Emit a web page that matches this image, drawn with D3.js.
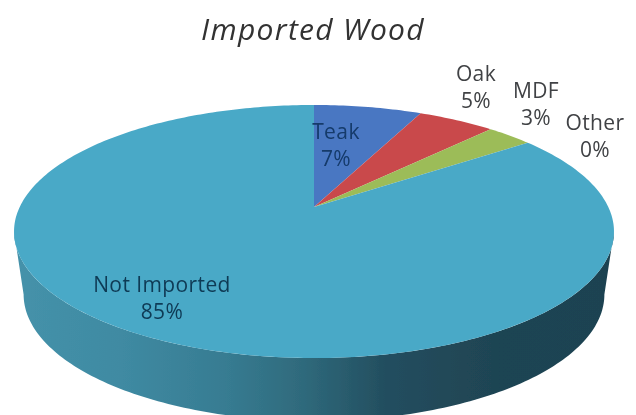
<!DOCTYPE html>
<html>
<head>
<meta charset="utf-8">
<script src="https://cdn.jsdelivr.net/npm/d3@7"></script>
<style>
html,body{margin:0;padding:0;background:#fff;}
svg{display:block;}
text{font-family:"Open Sans",Lato,sans-serif;}
</style>
</head>
<body>
<div id="chart"></div>
<script>
const chartTitle = "Imported Wood";
const categories = ["Teak", "Oak", "MDF", "Other", "Not Imported"];
const values = [7, 5, 3, 0, 85];
const percentLabels = ["7%", "5%", "3%", "0%", "85%"];
const sliceColors = ["#4a77c2", "#c94a4c", "#9cbc58", "#4aa9c7", "#4aa9c7"];
const labelColors = ["#143a6a", "#404245", "#404245", "#404245", "#0f3a55"];
const labelX = [336, 476, 536, 595, 162];
const labelY = [139, 81, 98, 130, 292];

const W = 636, H = 415;
const cx = 314, apexY = 207;
const k = 294.3, A = 81.7, C = -0.1937;
const depth = 63, bottomScale = 0.968;

// Perspective projection of a unit disc: angle measured clockwise from 12 o'clock
function project(theta, bottom) {
  const u = Math.sin(theta), v = -Math.cos(theta), w = 1 + C * v;
  const x = k * u / w, y = (A * v + apexY) / w;
  return bottom ? [cx + x * bottomScale, y + depth] : [cx + x, y];
}
const step = Math.PI / 180;
function arcPoints(a0, a1, bottom) {
  const n = Math.max(1, Math.ceil(Math.abs(a1 - a0) / step));
  return d3.range(n + 1).map(i => project(a0 + (a1 - a0) * i / n, bottom));
}

const svg = d3.select("#chart").append("svg").attr("width", W).attr("height", H);
const defs = svg.append("defs");
defs.append("filter").attr("id", "soft").attr("x", "-5%").attr("y", "-5%").attr("width", "110%").attr("height", "110%")
  .append("feGaussianBlur").attr("stdDeviation", 0.6);
const grad = defs.append("linearGradient").attr("id", "side")
  .attr("gradientUnits", "userSpaceOnUse").attr("x1", 14).attr("x2", 614).attr("y1", 0).attr("y2", 0);
[[0, "#4592aa"], [0.18, "#3f8aa2"], [0.35, "#377c92"], [0.48, "#2f6a7c"], [0.62, "#234e5f"], [0.8, "#1f4453"], [1, "#1e4351"]]
  .forEach(s => grad.append("stop").attr("offset", s[0]).attr("stop-color", s[1]));

const g = svg.append("g").attr("filter", "url(#soft)");
const line = d3.line();

// Side wall: between the two silhouette points (cos(theta) = C) of the top and bottom rims
const tA = Math.acos(C), tB = 2 * Math.PI - tA;
g.append("path")
  .attr("d", line([...arcPoints(tA, tB, false), ...arcPoints(tB, tA, true)]) + "Z")
  .attr("fill", "url(#side)");

const pie = d3.pie().sort(null).value(d => d)(values);
g.selectAll("path.slice").data(pie).join("path")
  .attr("class", "slice")
  .attr("d", d => line([[cx, apexY], ...arcPoints(d.startAngle, d.endAngle, false)]) + "Z")
  .attr("fill", (d, i) => sliceColors[i]);

g.append("text").attr("x", 313).attr("y", 40).attr("text-anchor", "middle")
  .attr("font-size", 30).attr("letter-spacing", 1.3).attr("font-style", "italic").attr("fill", "#333").text(chartTitle);

const labels = g.selectAll("text.lab").data(categories).join("text")
  .attr("class", "lab").attr("text-anchor", "middle").attr("font-size", 21).attr("letter-spacing", 0.4)
  .attr("fill", (d, i) => labelColors[i]);
labels.append("tspan").attr("x", (d, i) => labelX[i]).attr("y", (d, i) => labelY[i]).text(d => d);
labels.append("tspan").attr("x", (d, i) => labelX[i]).attr("y", (d, i) => labelY[i] + 27).text((d, i) => percentLabels[i]);
</script>
</body>
</html>
